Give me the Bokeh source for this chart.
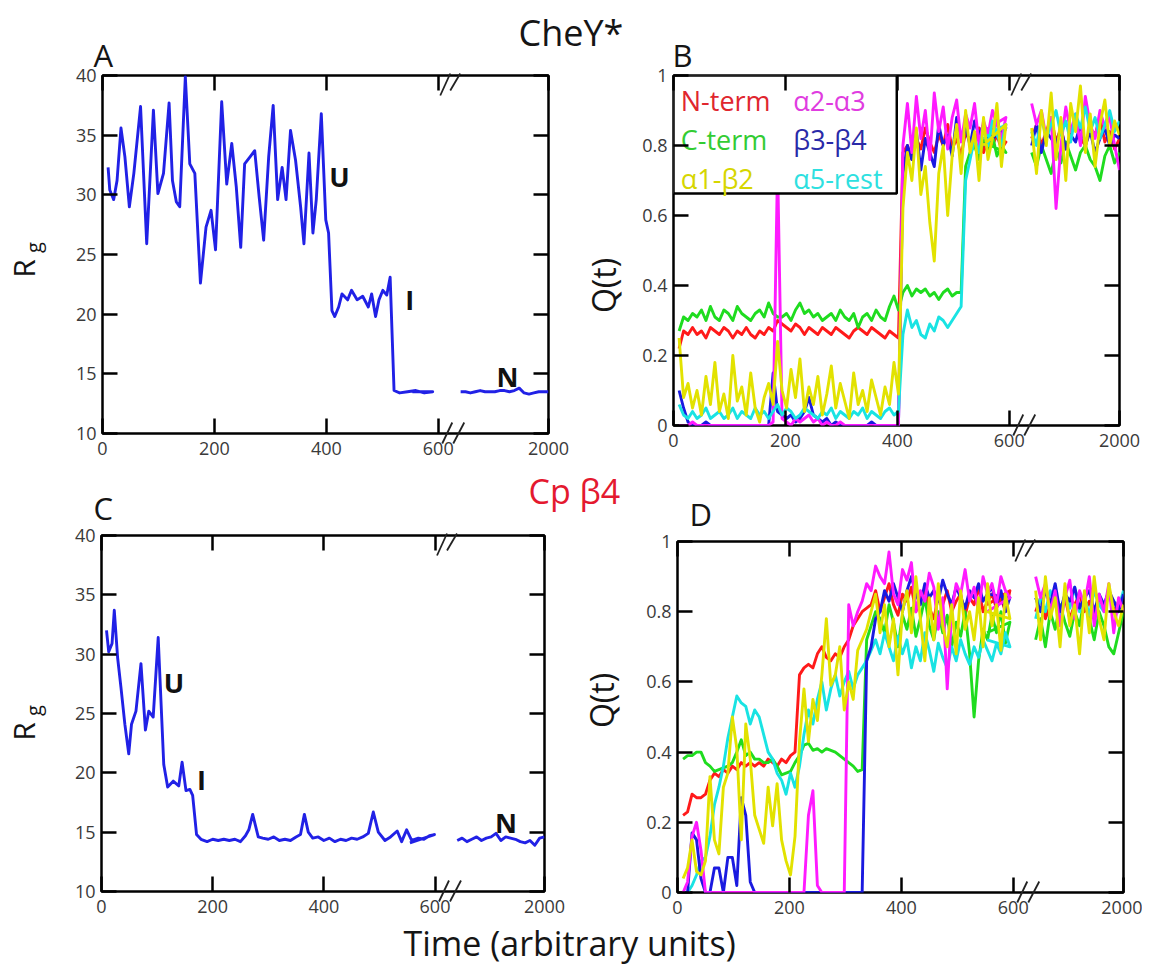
import math
from bokeh.plotting import figure
from bokeh.models import Range1d, FixedTicker, LinearAxis, Label
from bokeh.embed import file_html
from bokeh.resources import INLINE
from bokeh.core.properties import value

FONT = "Open Sans"

# ---------------- broken time axis: 0..600 linear, then resumes at 1100..2000
X_END = 797
BREAK_T = 600
RESUME_T = 1100
RESUME_X = 640
T_MAX = 2000
X_TICKS = [0, 200, 400, 600, 2000]


def axis_x(ts):
    out = []
    for t in ts:
        if t <= BREAK_T:
            out.append(t)
        else:
            out.append(RESUME_X + (t - RESUME_T) * (X_END - RESUME_X) / (T_MAX - RESUME_T))
    return out


# ---------------- data
# Panel A (CheY*, Rg)
A_T1 = [10, 13, 20, 26, 33, 40, 48, 56, 68, 79, 91, 99, 109, 119, 125, 132, 138, 148, 156, 165,
        175, 185, 194, 202, 213, 222, 231, 239, 247, 254, 264, 272, 280, 288, 297, 305, 313, 321, 328, 336,
        345, 354, 360, 369, 376, 382, 391, 399, 404, 410, 415, 422, 428, 438, 445, 455, 465, 475, 481, 488,
        494, 501, 508, 514, 521, 531, 545, 560, 575, 590, 606]
A_V1 = [32.3, 30.4, 29.6, 31.2, 35.6, 33.2, 29.0, 31.8, 37.4, 25.9, 37.1, 30.1, 31.8, 37.7, 31.2, 29.4, 29.0, 39.9, 32.6, 31.8,
        22.6, 27.3, 28.7, 25.4, 37.8, 30.9, 34.3, 30.7, 25.6, 32.6, 33.2, 33.7, 29.8, 26.2, 33.2, 37.5, 29.6, 32.3, 29.6, 35.4,
        32.9, 29.0, 25.9, 33.5, 26.8, 29.6, 36.8, 27.9, 26.8, 20.3, 19.8, 20.6, 21.7, 21.2, 22.0, 21.2, 21.5, 20.6, 21.7, 19.8,
        21.2, 22.0, 21.6, 23.1, 13.6, 13.4, 13.5, 13.6, 13.4, 13.5, 13.5]
T2 = [1100, 1150, 1200, 1250, 1300, 1350, 1400, 1450, 1500, 1550, 1600, 1650, 1700, 1750, 1800, 1850, 1900, 1950, 2000]
A_V2 = [13.5, 13.5, 13.4, 13.5, 13.6, 13.5, 13.5, 13.5, 13.6, 13.6, 13.5, 13.6, 13.8, 13.4, 13.3, 13.4, 13.5, 13.5, 13.5]

# Panel C (Cp beta4, Rg)
C_T1 = [9, 13, 19, 23, 29, 35, 42, 49, 54, 62, 71, 79, 85, 93, 102, 112, 119, 129, 139, 145,
        152, 159, 164, 171, 179, 190, 200, 210, 220, 230, 240, 250, 259, 265, 272, 282, 290, 300, 310, 320,
        330, 340, 350, 358, 365, 372, 380, 390, 400, 410, 420, 430, 440, 450, 460, 470, 480, 489, 498, 510,
        520, 532, 540, 549, 558, 570, 580, 590, 599, 612]
C_V1 = [32.0, 30.2, 30.9, 33.7, 29.7, 27.2, 24.1, 21.6, 24.1, 25.2, 29.2, 23.6, 25.2, 24.7, 31.4, 20.7, 18.8, 19.3, 18.9, 20.9,
        18.5, 18.6, 18.1, 14.8, 14.4, 14.2, 14.4, 14.3, 14.4, 14.3, 14.4, 14.2, 14.7, 15.2, 16.5, 14.6, 14.5, 14.4, 14.6, 14.3,
        14.4, 14.3, 14.6, 14.8, 16.5, 15.0, 14.5, 14.6, 14.3, 14.5, 14.2, 14.4, 14.3, 14.5, 14.4, 14.6, 14.9, 16.7, 15.0, 14.3,
        14.6, 15.1, 14.2, 15.2, 14.3, 14.5, 14.4, 14.7, 14.8, 14.1]
C_V2 = [14.3, 14.5, 14.2, 14.4, 14.6, 14.3, 14.5, 14.6, 14.9, 14.3, 14.6, 14.5, 14.4, 14.2, 14.1, 14.3, 13.9, 14.5, 14.6]

# Panels B and D share a time grid for the first segment
Q_T1 = [10, 18, 26, 34, 42, 50, 58, 66, 74, 82, 90, 98, 106, 114, 122, 130, 138, 146, 154, 162,
        170, 178, 186, 194, 202, 210, 218, 226, 234, 242, 250, 258, 266, 274, 282, 290, 298, 306, 314, 322,
        330, 338, 346, 354, 362, 370, 378, 386, 394, 402, 410, 418, 426, 434, 442, 450, 458, 466, 474, 482,
        490, 498, 506, 514, 522, 530, 538, 546, 554, 562, 570, 578, 586, 594, 602]

B_RED_1 = [0.22, 0.27, 0.26, 0.28, 0.26, 0.27, 0.25, 0.28, 0.27, 0.26, 0.28, 0.27, 0.25, 0.27, 0.26, 0.28, 0.26, 0.25, 0.27, 0.26,
           0.28, 0.27, 0.30, 0.29, 0.28, 0.27, 0.29, 0.28, 0.26, 0.28, 0.27, 0.26, 0.28, 0.27, 0.26, 0.28, 0.27, 0.26, 0.25, 0.27,
           0.28, 0.27, 0.26, 0.28, 0.27, 0.26, 0.25, 0.27, 0.26, 0.25, 0.78, 0.80, 0.76, 0.82, 0.79, 0.85, 0.81, 0.78, 0.83, 0.80,
           0.86, 0.79, 0.82, 0.77, 0.84, 0.81, 0.80, 0.85, 0.78, 0.82, 0.80, 0.83, 0.79, 0.81, 0.84]
B_GREEN_1 = [0.27, 0.31, 0.30, 0.32, 0.31, 0.33, 0.30, 0.34, 0.31, 0.30, 0.33, 0.32, 0.30, 0.34, 0.32, 0.31, 0.30, 0.32, 0.33, 0.31,
             0.35, 0.32, 0.31, 0.31, 0.32, 0.30, 0.33, 0.35, 0.32, 0.33, 0.31, 0.32, 0.30, 0.31, 0.32, 0.30, 0.33, 0.31, 0.30, 0.32,
             0.28, 0.31, 0.32, 0.30, 0.33, 0.31, 0.30, 0.34, 0.37, 0.33, 0.38, 0.40, 0.37, 0.39, 0.38, 0.39, 0.37, 0.38, 0.36, 0.38,
             0.39, 0.37, 0.38, 0.38, 0.74, 0.78, 0.80, 0.76, 0.82, 0.79, 0.83, 0.77, 0.80, 0.78, 0.81]
B_YEL_1 = [0.25, 0.08, 0.12, 0.05, 0.10, 0.03, 0.14, 0.06, 0.18, 0.04, 0.09, 0.02, 0.20, 0.07, 0.11, 0.03, 0.15, 0.05, 0.01, 0.08,
           0.12, 0.06, 0.24, 0.10, 0.05, 0.16, 0.08, 0.19, 0.04, 0.11, 0.06, 0.14, 0.03, 0.09, 0.17, 0.05, 0.12, 0.07, 0.02, 0.15,
           0.06, 0.10, 0.04, 0.13, 0.08, 0.03, 0.11, 0.06, 0.18, 0.09, 0.62, 0.78, 0.70, 0.85, 0.66, 0.74, 0.58, 0.47, 0.72, 0.80,
           0.60, 0.77, 0.86, 0.72, 0.90, 0.78, 0.84, 0.70, 0.88, 0.76, 0.82, 0.92, 0.74, 0.86, 0.80]
B_MAG_1 = [0.0, 0.0, 0.0, 0.01, 0.0, 0.0, 0.0, 0.0, 0.0, 0.0, 0.0, 0.0, 0.0, 0.0, 0.0, 0.0, 0.0, 0.0, 0.0, 0.0,
           0.0, 0.01, 0.75, 0.02, 0.01, 0.0, 0.02, 0.01, 0.02, 0.03, 0.01, 0.02, 0.0, 0.01, 0.0, 0.0, 0.01, 0.0, 0.0, 0.0,
           0.0, 0.0, 0.0, 0.0, 0.0, 0.0, 0.0, 0.0, 0.0, 0.0, 0.80, 0.92, 0.78, 0.94, 0.82, 0.90, 0.76, 0.95, 0.84, 0.91,
           0.79, 0.88, 0.93, 0.81, 0.89, 0.85, 0.92, 0.80, 0.87, 0.83, 0.90, 0.86, 0.82, 0.88, 0.84]
B_BLUE_1 = [0.10, 0.05, 0.01, 0.0, 0.0, 0.0, 0.01, 0.0, 0.0, 0.0, 0.0, 0.0, 0.0, 0.0, 0.0, 0.0, 0.0, 0.0, 0.0, 0.0,
            0.0, 0.15, 0.04, 0.03, 0.02, 0.03, 0.01, 0.02, 0.04, 0.08, 0.03, 0.02, 0.01, 0.02, 0.0, 0.01, 0.0, 0.0, 0.0, 0.0,
            0.0, 0.0, 0.0, 0.01, 0.0, 0.0, 0.0, 0.0, 0.0, 0.0, 0.72, 0.80, 0.76, 0.84, 0.73, 0.82, 0.78, 0.74, 0.86, 0.80,
            0.83, 0.77, 0.88, 0.82, 0.85, 0.80, 0.87, 0.83, 0.86, 0.81, 0.84, 0.88, 0.82, 0.85, 0.80]
B_CYAN_1 = [0.06, 0.03, 0.02, 0.04, 0.02, 0.03, 0.05, 0.02, 0.03, 0.04, 0.02, 0.03, 0.05, 0.02, 0.04, 0.03, 0.02, 0.05, 0.03, 0.04,
            0.02, 0.04, 0.06, 0.03, 0.05, 0.04, 0.02, 0.03, 0.05, 0.04, 0.03, 0.02, 0.04, 0.03, 0.05, 0.02, 0.04, 0.03, 0.02, 0.04,
            0.03, 0.05, 0.02, 0.04, 0.03, 0.02, 0.04, 0.05, 0.03, 0.04, 0.26, 0.33, 0.28, 0.30, 0.26, 0.25, 0.29, 0.27, 0.31, 0.30,
            0.28, 0.30, 0.32, 0.34, 0.70, 0.76, 0.82, 0.78, 0.85, 0.80, 0.87, 0.83, 0.80, 0.86, 0.82]
B_RED_2 = [0.82, 0.86, 0.80, 0.84, 0.88, 0.81, 0.85, 0.79, 0.83, 0.87, 0.82, 0.80, 0.85, 0.83, 0.88, 0.81, 0.84, 0.79, 0.82]
B_GREEN_2 = [0.78, 0.74, 0.80, 0.76, 0.72, 0.79, 0.75, 0.81, 0.77, 0.73, 0.78, 0.80, 0.76, 0.74, 0.70, 0.77, 0.80, 0.75, 0.78]
B_YEL_2 = [0.85, 0.72, 0.90, 0.80, 0.95, 0.76, 0.88, 0.70, 0.92, 0.84, 0.97, 0.78, 0.89, 0.74, 0.86, 0.93, 0.80, 0.87, 0.83]
B_MAG_2 = [0.92, 0.86, 0.90, 0.82, 0.88, 0.62, 0.80, 0.91, 0.84, 0.89, 0.80, 0.94, 0.86, 0.82, 0.90, 0.85, 0.88, 0.80, 0.73]
B_BLUE_2 = [0.80, 0.86, 0.78, 0.84, 0.82, 0.80, 0.85, 0.79, 0.83, 0.81, 0.86, 0.80, 0.84, 0.78, 0.82, 0.85, 0.80, 0.83, 0.82]
B_CYAN_2 = [0.84, 0.80, 0.88, 0.82, 0.86, 0.90, 0.83, 0.87, 0.81, 0.89, 0.85, 0.91, 0.84, 0.88, 0.82, 0.86, 0.90, 0.84, 0.87]

D_RED_1 = [0.22, 0.23, 0.28, 0.27, 0.27, 0.28, 0.32, 0.34, 0.33, 0.35, 0.34, 0.36, 0.35, 0.37, 0.36, 0.37, 0.36, 0.37, 0.36, 0.38,
           0.37, 0.36, 0.38, 0.37, 0.39, 0.40, 0.62, 0.64, 0.65, 0.64, 0.68, 0.70, 0.67, 0.66, 0.68, 0.67, 0.70, 0.72, 0.76, 0.78,
           0.80, 0.81, 0.82, 0.86, 0.80, 0.84, 0.88, 0.82, 0.79, 0.85, 0.83, 0.87, 0.80, 0.84, 0.86, 0.81, 0.78, 0.84, 0.82, 0.86,
           0.80, 0.83, 0.85, 0.79, 0.84, 0.82, 0.87, 0.80, 0.83, 0.85, 0.81, 0.84, 0.80, 0.86, 0.82]
D_GREEN_1 = [0.38, 0.39, 0.39, 0.40, 0.40, 0.37, 0.36, 0.345, 0.35, 0.355, 0.36, 0.37, 0.40, 0.435, 0.39, 0.40, 0.38, 0.38, 0.37, 0.37,
             0.38, 0.36, 0.335, 0.34, 0.345, 0.37, 0.39, 0.42, 0.425, 0.405, 0.41, 0.40, 0.41, 0.405, 0.40, 0.39, 0.38, 0.37, 0.36, 0.345,
             0.35, 0.72, 0.76, 0.80, 0.78, 0.74, 0.82, 0.77, 0.70, 0.79, 0.75, 0.81, 0.73, 0.78, 0.84, 0.76, 0.72, 0.80, 0.74, 0.79,
             0.70, 0.77, 0.73, 0.80, 0.68, 0.50, 0.66, 0.75, 0.72, 0.79, 0.74, 0.80, 0.71, 0.77, 0.74]
D_YEL_1 = [0.04, 0.07, 0.15, 0.06, 0.05, 0.09, 0.33, 0.15, 0.11, 0.30, 0.34, 0.50, 0.41, 0.15, 0.48, 0.38, 0.22, 0.18, 0.14, 0.30,
           0.19, 0.31, 0.15, 0.09, 0.05, 0.16, 0.43, 0.58, 0.43, 0.55, 0.49, 0.62, 0.78, 0.59, 0.62, 0.70, 0.52, 0.60, 0.55, 0.69,
           0.72, 0.75, 0.80, 0.85, 0.74, 0.82, 0.70, 0.78, 0.62, 0.80, 0.86, 0.74, 0.90, 0.78, 0.66, 0.84, 0.72, 0.88, 0.76, 0.70,
           0.82, 0.68, 0.86, 0.75, 0.80, 0.72, 0.84, 0.70, 0.88, 0.76, 0.82, 0.69, 0.85, 0.78, 0.80]
D_MAG_1 = [0.0, 0.03, 0.16, 0.20, 0.12, 0.0, 0.0, 0.0, 0.0, 0.0, 0.0, 0.0, 0.0, 0.0, 0.0, 0.0, 0.0, 0.0, 0.0, 0.0,
           0.0, 0.0, 0.0, 0.0, 0.0, 0.0, 0.0, 0.0, 0.22, 0.29, 0.02, 0.0, 0.0, 0.0, 0.0, 0.0, 0.0, 0.82, 0.76, 0.80,
           0.83, 0.88, 0.86, 0.93, 0.90, 0.88, 0.97, 0.85, 0.82, 0.92, 0.89, 0.94, 0.80, 0.86, 0.83, 0.91, 0.87, 0.75, 0.84, 0.58,
           0.80, 0.88, 0.85, 0.92, 0.83, 0.87, 0.80, 0.90, 0.85, 0.88, 0.82, 0.90, 0.86, 0.84, 0.80]
D_BLUE_1 = [0.0, 0.0, 0.17, 0.15, 0.04, 0.0, 0.0, 0.07, 0.07, 0.0, 0.10, 0.10, 0.02, 0.27, 0.22, 0.03, 0.0, 0.0, 0.0, 0.0,
            0.0, 0.0, 0.0, 0.0, 0.0, 0.0, 0.0, 0.0, 0.0, 0.0, 0.0, 0.0, 0.0, 0.0, 0.0, 0.0, 0.0, 0.0, 0.0, 0.0,
            0.0, 0.66, 0.70, 0.78, 0.80, 0.86, 0.83, 0.88, 0.84, 0.80, 0.86, 0.90, 0.85, 0.82, 0.88, 0.84, 0.86, 0.83, 0.89, 0.85,
            0.82, 0.87, 0.84, 0.81, 0.86, 0.84, 0.88, 0.83, 0.85, 0.87, 0.82, 0.86, 0.80, 0.84, 0.85]
D_CYAN_1 = [0.0, 0.0, 0.02, 0.05, 0.09, 0.10, 0.16, 0.25, 0.30, 0.36, 0.44, 0.50, 0.56, 0.54, 0.53, 0.48, 0.52, 0.50, 0.45, 0.40,
            0.38, 0.34, 0.32, 0.28, 0.34, 0.30, 0.36, 0.45, 0.52, 0.48, 0.55, 0.60, 0.52, 0.58, 0.62, 0.56, 0.60, 0.63, 0.58, 0.62,
            0.64, 0.66, 0.69, 0.72, 0.68, 0.74, 0.70, 0.66, 0.73, 0.68, 0.72, 0.64, 0.70, 0.66, 0.74, 0.69, 0.63, 0.71, 0.67, 0.64,
            0.70, 0.66, 0.72, 0.68, 0.65, 0.70, 0.67, 0.72, 0.69, 0.66, 0.71, 0.68, 0.74, 0.70, 0.72]
D_RED_2 = [0.80, 0.84, 0.78, 0.82, 0.86, 0.80, 0.84, 0.78, 0.82, 0.85, 0.80, 0.83, 0.79, 0.84, 0.81, 0.86, 0.80, 0.83, 0.80]
D_GREEN_2 = [0.72, 0.78, 0.70, 0.80, 0.75, 0.82, 0.77, 0.73, 0.80, 0.76, 0.84, 0.78, 0.72, 0.80, 0.76, 0.70, 0.68, 0.74, 0.80]
D_YEL_2 = [0.86, 0.72, 0.90, 0.78, 0.84, 0.70, 0.88, 0.76, 0.82, 0.68, 0.86, 0.74, 0.90, 0.78, 0.72, 0.88, 0.80, 0.76, 0.82]
D_MAG_2 = [0.90, 0.84, 0.88, 0.80, 0.86, 0.76, 0.84, 0.89, 0.78, 0.86, 0.82, 0.90, 0.76, 0.85, 0.80, 0.88, 0.74, 0.84, 0.80]
D_BLUE_2 = [0.84, 0.80, 0.86, 0.82, 0.88, 0.80, 0.85, 0.83, 0.87, 0.81, 0.84, 0.86, 0.80, 0.85, 0.82, 0.86, 0.83, 0.80, 0.85]
D_CYAN_2 = [0.78, 0.84, 0.80, 0.86, 0.82, 0.78, 0.85, 0.81, 0.87, 0.80, 0.84, 0.79, 0.86, 0.82, 0.80, 0.85, 0.83, 0.81, 0.86]

RG_TICKS = [10, 15, 20, 25, 30, 35, 40]
Q_TICKS = [0, 0.2, 0.4, 0.6, 0.8, 1]
Q_TICK_LABELS = ["0", "0.2", "0.4", "0.6", "0.8", "1"]
LEG_TEXT = ["N-term", "α2-α3", "C-term", "β3-β4", "α1-β2", "α5-rest"]

# ---------------- styling
RG_COLOR = "#2121e6"
COL = {"N-term": "#ff1a1a", "C-term": "#1fdc1f", "α1-β2": "#e2e200",
       "α2-α3": "#ff1aff", "β3-β4": "#1a1ae0", "α5-rest": "#19e3e3"}
LEG_COL = {"N-term": "#e0262e", "C-term": "#33cc33", "α1-β2": "#d6d600",
           "α2-α3": "#e03ce0", "β3-β4": "#2a2aa8", "α5-rest": "#2ee0e0"}
TICK_COLOR = "#3a3a3a"

# page placement (absolute, page pixels) and inner borders of every panel
GEOM = {
    "A": dict(left=8, top=8, w=582, h=462, bl=94, br=42, bt=67, bb=37),
    "B": dict(left=590, top=8, w=552, h=462, bl=83, br=23, bt=67, bb=45),
    "C": dict(left=8, top=470, w=582, h=490, bl=93, br=46, bt=65, bb=69),
    "D": dict(left=590, top=470, w=552, h=490, bl=87, br=19, bt=71, bb=68),
}


def place(g):
    return {"position": "absolute", "left": f"{g['left']}px", "top": f"{g['top']}px"}


def style_axis(ax, show):
    ax.axis_line_color = None
    ax.major_tick_in = 15
    ax.major_tick_out = 0
    ax.major_tick_line_width = 2.5
    ax.major_tick_line_color = "black"
    ax.minor_tick_line_color = None
    ax.major_label_text_font = FONT
    ax.major_label_text_color = TICK_COLOR
    if show:
        ax.major_label_text_font_size = "18px"
        ax.major_label_standoff = 8
    else:
        ax.major_label_text_font_size = "1px"
        ax.major_label_standoff = 0


def make_panel(name, y0, y1, yticks, ylabels):
    g = GEOM[name]
    p = figure(width=g["w"], height=g["h"], x_range=Range1d(0, X_END), y_range=Range1d(y0, y1),
               output_backend="svg", toolbar_location=None, title=None,
               x_axis_location=None, y_axis_location=None,
               min_border_left=g["bl"], min_border_right=g["br"],
               min_border_top=g["bt"], min_border_bottom=g["bb"], styles=place(g))
    p.grid.visible = False
    p.outline_line_color = "black"
    p.outline_line_width = 2.5
    p.outline_line_alpha = 1.0
    p.background_fill_color = "white"
    p.border_fill_color = None
    xt = [int(round(v)) for v in axis_x(X_TICKS)]
    for side in ("below", "above"):
        ax = LinearAxis(ticker=FixedTicker(ticks=xt))
        if side == "below":
            ax.major_label_overrides = {xt[i]: str(X_TICKS[i]) for i in range(len(xt))}
        else:
            ax.major_label_overrides = {t: "" for t in xt}
        style_axis(ax, side == "below")
        p.add_layout(ax, side)
    for side in ("left", "right"):
        ax = LinearAxis(ticker=FixedTicker(ticks=yticks))
        if side == "left":
            ax.major_label_overrides = {yticks[i]: ylabels[i] for i in range(len(yticks))}
            style_axis(ax, True)
            ax.major_label_standoff = 6
        else:
            ax.major_label_overrides = {t: "" for t in yticks}
            style_axis(ax, False)
        p.add_layout(ax, side)
    return p


def draw_line(p, t1, v1, t2, v2, color):
    p.line(axis_x(t1), v1, line_color=color, line_width=2.9, line_join="round")
    p.line(axis_x(t2), v2, line_color=color, line_width=2.9, line_join="round")


def state_label(p, x, y, text):
    p.add_layout(Label(x=x, y=y, text=text, text_font=FONT, text_font_size="27px",
                       text_font_style="bold", text_color="#111111",
                       text_align="left", text_baseline="middle"))


# ---------------- panel A
pA = make_panel("A", 10, 40, RG_TICKS, [str(v) for v in RG_TICKS])
draw_line(pA, A_T1, A_V1, T2, A_V2, RG_COLOR)
state_label(pA, 405, 31.5, "U")
state_label(pA, 541, 21.2, "I")
state_label(pA, 704, 14.8, "N")

# ---------------- panel C
pC = make_panel("C", 10, 40, RG_TICKS, [str(v) for v in RG_TICKS])
draw_line(pC, C_T1, C_V1, T2, C_V2, RG_COLOR)
state_label(pC, 112, 27.6, "U")
state_label(pC, 172, 19.4, "I")
state_label(pC, 708, 15.8, "N")

# ---------------- panel B
pB = make_panel("B", 0, 1, Q_TICKS, Q_TICK_LABELS)
B_DATA = {"N-term": (B_RED_1, B_RED_2), "C-term": (B_GREEN_1, B_GREEN_2),
          "β3-β4": (B_BLUE_1, B_BLUE_2), "α2-α3": (B_MAG_1, B_MAG_2),
          "α5-rest": (B_CYAN_1, B_CYAN_2), "α1-β2": (B_YEL_1, B_YEL_2)}
for name in ["N-term", "C-term", "β3-β4", "α2-α3", "α5-rest", "α1-β2"]:
    s1, s2 = B_DATA[name]
    draw_line(pB, Q_T1, s1, T2, s2, COL[name])

# legend box (drawn over the lines, under the axes' ticks)
pB.quad(left=[0], right=[399], bottom=[0.663], top=[1.0], fill_color="white",
        line_color="black", line_width=2.5)
LEG_X = [13, 214, 13, 214, 13, 214]
LEG_Y = [0.929, 0.929, 0.817, 0.817, 0.707, 0.707]
pB.text(x=LEG_X, y=LEG_Y, text=LEG_TEXT, text_color=[LEG_COL[t] for t in LEG_TEXT],
        text_font=value(FONT), text_font_size="27px", text_baseline="middle", text_align="left")

# ---------------- panel D
pD = make_panel("D", 0, 1, Q_TICKS, Q_TICK_LABELS)
D_DATA = {"N-term": (D_RED_1, D_RED_2), "C-term": (D_GREEN_1, D_GREEN_2),
          "α5-rest": (D_CYAN_1, D_CYAN_2), "β3-β4": (D_BLUE_1, D_BLUE_2),
          "α2-α3": (D_MAG_1, D_MAG_2), "α1-β2": (D_YEL_1, D_YEL_2)}
for name in ["N-term", "C-term", "α5-rest", "β3-β4", "α2-α3", "α1-β2"]:
    s1, s2 = D_DATA[name]
    draw_line(pD, Q_T1, s1, T2, s2, COL[name])

# ---------------- transparent overlay covering the page (page-pixel coordinates)
OV = dict(left=0, top=0, w=1150, h=969)
ov = figure(width=OV["w"], height=OV["h"], x_range=Range1d(0, OV["w"]), y_range=Range1d(OV["h"], 0),
            output_backend="svg", toolbar_location=None, title=None,
            x_axis_location=None, y_axis_location=None,
            min_border_left=0, min_border_right=0, min_border_top=0, min_border_bottom=0,
            styles=place(OV))
ov.grid.visible = False
ov.outline_line_color = None
ov.background_fill_color = None
ov.border_fill_color = None


def lab(px, py, text, size, color="#151515", align="left", angle=0.0):
    # (px, py): page position of the text's left edge (or centre) and its vertical middle
    ov.add_layout(Label(x=px - OV["left"], y=py - OV["top"], text=text, text_font=FONT,
                        text_font_size=f"{size}px", text_color=color, text_align=align,
                        text_baseline="middle", angle=angle))


lab(518, 31.5, "CheY*", 36)
lab(528, 490.5, "Cp β4", 34, color="#e4192f")
lab(403, 942, "Time (arbitrary units)", 34)
lab(93, 54, "A", 31)
lab(672, 54, "B", 31)
lab(93, 507.5, "C", 31)
lab(689, 513, "D", 31)
lab(23, 268, "R", 30, align="center", angle=math.pi / 2)
lab(33, 247, "g", 20, align="center", angle=math.pi / 2)
lab(23, 731, "R", 30, align="center", angle=math.pi / 2)
lab(33, 710, "g", 20, align="center", angle=math.pi / 2)
lab(603, 285, "Q(t)", 32, align="center", angle=math.pi / 2)
lab(601, 700, "Q(t)", 32, align="center", angle=math.pi / 2)

# axis-break marks "//" at the 600 tick of every panel (top and bottom edges)
bx0, by0, bx1, by1 = [], [], [], []
for name, g in GEOM.items():
    L = g["left"] + g["bl"]
    fw = g["w"] - g["bl"] - g["br"]
    T = g["top"] + g["bt"]
    B = g["top"] + g["h"] - g["bb"]
    x6 = L + BREAK_T * fw / X_END
    marks = [(2, T + 20, 12, T - 2), (12, T + 15, 22, T - 2),
             (4, B + 10, 14, B - 11), (15, B + 10, 26, B - 11)]
    for (dx0, y0, dx1, y1) in marks:
        bx0.append(x6 + dx0 - OV["left"]); by0.append(y0 - OV["top"])
        bx1.append(x6 + dx1 - OV["left"]); by1.append(y1 - OV["top"])
ov.segment(x0=bx0, y0=by0, x1=bx1, y1=by1, line_color="#222222", line_width=1.8)

open("out.html", "w").write(file_html([pA, pB, pC, pD, ov], INLINE))
